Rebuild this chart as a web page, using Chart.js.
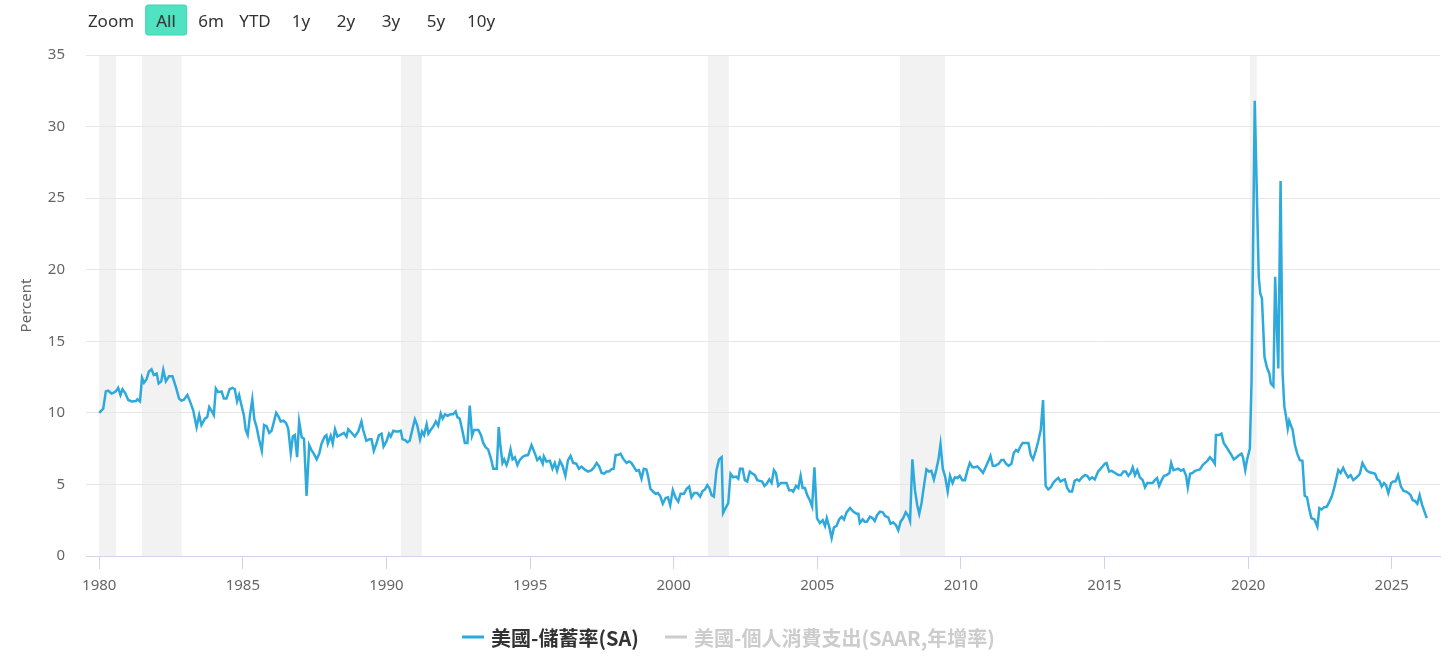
<!DOCTYPE html>
<html>
<head>
<meta charset="utf-8">
<title>美國-儲蓄率(SA)</title>
<script src="https://cdn.jsdelivr.net/npm/chart.js@4.4.1/dist/chart.umd.min.js"></script>
<style>
  body { margin: 0; background: #fff; font-family: "Noto Sans", "Noto Sans CJK TC", sans-serif; }
  #wrap { position: relative; width: 1456px; height: 669px; overflow: hidden; }
  #chart-box { position: absolute; left: 0; top: 0; width: 1456px; height: 669px; }
  .zoom-btn { position: absolute; top: 20px; transform: translate(-50%, -50%); font-size: 17px; color: #333; white-space: nowrap; line-height: 1; }
  .zoom-btn.active { background: #50e3c2; border: 1px solid #3dd2b0; border-radius: 3px; padding: 6px 10px; }
  .legend-item { position: absolute; top: 637px; transform: translateY(-50%); display: flex; align-items: center;
    font-family: "Noto Sans CJK TC", "Noto Sans", sans-serif; font-weight: bold; font-size: 20px; white-space: nowrap; }
  .legend-item i { display: inline-block; width: 22px; height: 3px; margin-right: 7px; }
</style>
</head>
<body>
<div id="wrap">
  <div id="chart-box"><canvas id="graph-canvas"></canvas></div>
  <div id="zoom-bar"></div>
  <div id="legend"></div>
</div>
<script>
// 美國個人儲蓄率, 讀自原圖 (年份以小數表示)
const saveYears = [
  1980.00, 1980.14, 1980.23, 1980.31, 1980.43, 1980.49, 1980.58, 1980.66, 1980.74, 1980.81, 1980.90,
  1981.01, 1981.13, 1981.28, 1981.33, 1981.42, 1981.49, 1981.56, 1981.65, 1981.73, 1981.82, 1981.90,
  1982.00, 1982.07, 1982.16, 1982.23, 1982.32, 1982.43, 1982.55, 1982.67, 1982.78, 1982.86, 1982.94,
  1983.07, 1983.16, 1983.27, 1983.39, 1983.48, 1983.56, 1983.68, 1983.76, 1983.83, 1983.91, 1983.99,
  1984.06, 1984.14, 1984.26, 1984.34, 1984.43, 1984.54, 1984.64, 1984.72, 1984.80, 1984.87, 1984.95,
  1985.04, 1985.10, 1985.17, 1985.25, 1985.33, 1985.40, 1985.48, 1985.57, 1985.66, 1985.74, 1985.83, 1985.92, 1986.00,
  1986.16, 1986.24, 1986.32, 1986.41, 1986.50, 1986.58, 1986.67, 1986.74, 1986.81, 1986.89, 1986.96,
  1987.05, 1987.13, 1987.22, 1987.31, 1987.39, 1987.47, 1987.57, 1987.66, 1987.74, 1987.85, 1987.91, 1987.96,
  1988.06, 1988.13, 1988.21, 1988.29, 1988.38, 1988.52, 1988.61, 1988.67, 1988.79, 1988.90, 1989.02,
  1989.13, 1989.19, 1989.30, 1989.40, 1989.48, 1989.56, 1989.65, 1989.74, 1989.83, 1989.90, 1990.00,
  1990.09, 1990.15, 1990.24, 1990.33, 1990.41, 1990.50, 1990.56, 1990.65, 1990.73, 1990.81, 1990.91, 1990.99,
  1991.07, 1991.17, 1991.24, 1991.31, 1991.40, 1991.46, 1991.54, 1991.63, 1991.72, 1991.80, 1991.89, 1991.96, 1992.04,
  1992.13, 1992.23, 1992.32, 1992.41, 1992.47, 1992.55, 1992.65, 1992.73, 1992.82, 1992.90, 1992.98, 1993.05,
  1993.20, 1993.29, 1993.37, 1993.45, 1993.54, 1993.64, 1993.72, 1993.84, 1993.91, 1993.97, 1994.04,
  1994.10, 1994.18, 1994.24, 1994.32, 1994.39, 1994.47, 1994.56, 1994.64, 1994.73, 1994.81, 1994.93, 1995.05,
  1995.17, 1995.25, 1995.34, 1995.44, 1995.48, 1995.57, 1995.69, 1995.78, 1995.86, 1995.94, 1996.04,
  1996.13, 1996.23, 1996.32, 1996.41, 1996.50, 1996.61, 1996.70, 1996.79, 1996.90, 1997.02,
  1997.14, 1997.23, 1997.32, 1997.41, 1997.49, 1997.58, 1997.66, 1997.75, 1997.83, 1997.91, 1997.98, 1998.06,
  1998.15, 1998.24, 1998.36, 1998.45, 1998.53, 1998.61, 1998.70, 1998.79, 1998.88, 1998.96, 1999.05,
  1999.10, 1999.19, 1999.28, 1999.37, 1999.45, 1999.53, 1999.62, 1999.72, 1999.80, 1999.88, 1999.97, 2000.07,
  2000.16, 2000.24, 2000.36, 2000.45, 2000.54, 2000.62, 2000.71, 2000.82, 2000.92, 2001.01, 2001.09,
  2001.17, 2001.24, 2001.32, 2001.40, 2001.49, 2001.58, 2001.67, 2001.72, 2001.81, 2001.90, 2001.98, 2002.07,
  2002.17, 2002.25, 2002.31, 2002.40, 2002.48, 2002.56, 2002.65, 2002.75, 2002.83, 2002.91, 2003.00, 2003.08,
  2003.16, 2003.24, 2003.33, 2003.41, 2003.49, 2003.56, 2003.64, 2003.73, 2003.82, 2003.93, 2004.02, 2004.11,
  2004.16, 2004.26, 2004.34, 2004.42, 2004.49, 2004.57, 2004.65, 2004.74, 2004.82, 2004.90, 2004.99, 2005.09,
  2005.19, 2005.27, 2005.33, 2005.42, 2005.50, 2005.58, 2005.67, 2005.76, 2005.85, 2005.93, 2006.02,
  2006.14, 2006.25, 2006.37, 2006.43, 2006.48, 2006.58, 2006.65, 2006.73, 2006.83, 2006.92, 2007.00, 2007.08,
  2007.18, 2007.28, 2007.36, 2007.47, 2007.55, 2007.64, 2007.74, 2007.82, 2007.90, 2007.99, 2008.08,
  2008.17, 2008.23, 2008.31, 2008.40, 2008.48, 2008.55, 2008.63, 2008.71, 2008.80, 2008.89, 2008.97, 2009.06, 2009.14,
  2009.22, 2009.29, 2009.37, 2009.45, 2009.54, 2009.62, 2009.71, 2009.79, 2009.88, 2009.96, 2010.05, 2010.14,
  2010.23, 2010.31, 2010.40, 2010.49, 2010.57, 2010.67, 2010.77, 2010.86, 2010.95, 2011.03, 2011.11,
  2011.20, 2011.32, 2011.41, 2011.49, 2011.57, 2011.66, 2011.76, 2011.84, 2011.92, 2011.99, 2012.07, 2012.15,
  2012.26, 2012.35, 2012.43, 2012.51, 2012.60, 2012.69, 2012.78, 2012.86, 2012.95, 2013.04, 2013.13,
  2013.21, 2013.30, 2013.39, 2013.47, 2013.55, 2013.62, 2013.70, 2013.78, 2013.87, 2013.96, 2014.04, 2014.12,
  2014.22, 2014.32, 2014.40, 2014.48, 2014.57, 2014.66, 2014.78, 2014.93, 2015.01, 2015.07, 2015.16,
  2015.25, 2015.37, 2015.48, 2015.57, 2015.66, 2015.74, 2015.83, 2015.91, 2015.98, 2016.06, 2016.14,
  2016.23, 2016.33, 2016.41, 2016.49, 2016.58, 2016.67, 2016.75, 2016.83, 2016.90, 2016.99, 2017.07, 2017.16,
  2017.26, 2017.32, 2017.40, 2017.49, 2017.57, 2017.66, 2017.75, 2017.84, 2017.90, 2017.98, 2018.07, 2018.15,
  2018.23, 2018.32, 2018.42, 2018.50, 2018.58, 2018.67, 2018.76, 2018.84, 2018.88, 2018.99, 2019.07, 2019.15,
  2019.25, 2019.34, 2019.42, 2019.50, 2019.60, 2019.69, 2019.77, 2019.82, 2019.90, 2019.96, 2020.06, 2020.12,
  2020.23, 2020.37, 2020.42, 2020.48, 2020.57, 2020.65, 2020.74, 2020.79, 2020.88, 2020.94, 2021.05, 2021.13, 2021.20,
  2021.26, 2021.32, 2021.38, 2021.43, 2021.55, 2021.63, 2021.71, 2021.80, 2021.89, 2021.97, 2022.05, 2022.12, 2022.20,
  2022.31, 2022.41, 2022.48, 2022.56, 2022.64, 2022.74, 2022.83, 2022.91, 2022.99, 2023.06, 2023.14, 2023.22,
  2023.31, 2023.39, 2023.48, 2023.57, 2023.66, 2023.75, 2023.83, 2023.89, 2023.98, 2024.06, 2024.14, 2024.23,
  2024.34, 2024.42, 2024.50, 2024.57, 2024.65, 2024.73, 2024.80, 2024.88, 2024.98, 2025.05, 2025.13, 2025.22,
  2025.32, 2025.41, 2025.50, 2025.58, 2025.66, 2025.73, 2025.81, 2025.89, 2025.97, 2026.06, 2026.14, 2026.22
];
const saveRate = [
  10.0, 10.3, 11.5, 11.55, 11.35, 11.4, 11.5, 11.75, 11.25, 11.65, 11.4,
  10.9, 10.8, 10.83, 10.95, 10.8, 12.45, 12.1, 12.35, 12.9, 13.05, 12.65,
  12.75, 12.05, 12.2, 13.0, 12.2, 12.55, 12.55, 11.8, 11.0, 10.85, 10.9,
  11.25, 10.8, 10.2, 9.0, 9.85, 9.15, 9.6, 9.7, 10.4, 10.15, 9.85,
  11.7, 11.45, 11.5, 11.0, 11.0, 11.65, 11.75, 11.65, 10.8, 11.25, 10.55,
  9.8, 8.8, 8.45, 9.85, 10.95, 9.55, 9.0, 8.1, 7.35, 9.15, 9.05, 8.6, 8.75,
  10.0, 9.75, 9.4, 9.45, 9.3, 8.9, 7.2, 8.35, 8.45, 6.9, 9.4,
  8.3, 8.2, 4.2, 7.75, 7.4, 7.15, 6.75, 7.15, 7.85, 8.35, 8.45, 7.85,
  8.4, 7.85, 8.85, 8.35, 8.45, 8.6, 8.35, 8.85, 8.6, 8.35, 8.7,
  9.4, 8.8, 8.05, 8.15, 8.15, 7.35, 7.85, 8.45, 8.55, 7.65, 8.0,
  8.55, 8.35, 8.75, 8.7, 8.7, 8.75, 8.15, 8.1, 7.95, 8.05, 8.9, 9.55,
  9.15, 8.15, 8.7, 8.45, 9.2, 8.55, 8.8, 9.05, 9.4, 9.1, 9.95, 9.6, 9.9,
  9.8, 9.9, 9.9, 10.1, 9.7, 9.6, 8.7, 7.9, 7.9, 10.5, 8.4, 8.8,
  8.8, 8.45, 7.9, 7.6, 7.45, 6.8, 6.1, 6.1, 9.0, 7.65, 6.5,
  6.75, 6.35, 6.7, 7.45, 6.75, 6.9, 6.35, 6.7, 6.9, 7.0, 7.05, 7.75,
  7.15, 6.7, 6.9, 6.45, 6.95, 6.6, 6.65, 6.1, 6.5, 5.95, 6.65,
  6.3, 5.6, 6.7, 7.0, 6.5, 6.45, 6.1, 6.25, 6.05, 5.9,
  6.0, 6.2, 6.5, 6.25, 5.8, 5.75, 5.9, 5.9, 6.05, 6.1, 7.05, 7.05,
  7.15, 6.8, 6.5, 6.6, 6.5, 6.25, 5.95, 6.0, 5.4, 6.1, 6.05,
  5.65, 4.7, 4.5, 4.35, 4.4, 4.2, 3.65, 4.05, 4.1, 3.55, 4.6, 4.05,
  3.8, 4.35, 4.35, 4.7, 4.85, 4.1, 4.4, 4.4, 4.15, 4.55, 4.65,
  4.95, 4.75, 4.25, 4.15, 6.0, 6.75, 6.9, 3.0, 3.35, 3.7, 5.75, 5.5,
  5.55, 5.4, 6.1, 6.1, 5.3, 5.2, 5.9, 5.75, 5.65, 5.3, 5.25, 5.2,
  4.9, 5.05, 5.35, 5.1, 6.0, 5.8, 4.9, 5.1, 5.1, 5.1, 4.6, 4.6,
  4.5, 4.9, 4.75, 5.6, 4.75, 4.75, 4.25, 3.9, 3.45, 6.2, 2.65, 2.3,
  2.5, 2.1, 2.65, 2.0, 1.25, 2.0, 2.1, 2.55, 2.75, 2.55, 3.05,
  3.35, 3.1, 2.95, 2.95, 2.3, 2.55, 2.4, 2.4, 2.75, 2.65, 2.45, 2.85,
  3.1, 3.05, 2.8, 2.7, 2.25, 2.35, 2.15, 1.8, 2.4, 2.65, 3.05,
  2.8, 2.45, 6.75, 4.6, 3.55, 2.95, 3.7, 4.85, 6.05, 5.9, 5.95, 5.35, 6.0,
  6.75, 7.8, 6.1, 5.55, 4.5, 5.6, 5.1, 5.5, 5.45, 5.6, 5.3, 5.3,
  6.0, 6.5, 6.2, 6.2, 6.25, 6.05, 5.8, 6.2, 6.6, 7.0, 6.3,
  6.3, 6.45, 6.7, 6.7, 6.45, 6.3, 6.45, 7.2, 7.4, 7.3, 7.65, 7.9,
  7.9, 7.9, 7.05, 6.75, 7.3, 8.0, 8.8, 10.9, 4.9, 4.65, 4.8,
  5.1, 5.3, 5.45, 5.2, 5.3, 5.35, 4.75, 4.5, 4.5, 5.25, 5.35, 5.25,
  5.5, 5.65, 5.6, 5.35, 5.5, 5.35, 5.9, 6.25, 6.45, 6.5, 5.9,
  5.95, 5.8, 5.65, 5.65, 5.9, 5.9, 5.6, 5.8, 6.2, 5.65, 6.0,
  5.5, 5.3, 4.8, 5.1, 5.1, 5.1, 5.3, 5.45, 4.9, 5.3, 5.6, 5.65,
  5.8, 6.5, 6.0, 6.05, 6.1, 5.95, 6.05, 5.6, 4.8, 5.75, 5.8, 5.95,
  6.0, 6.05, 6.35, 6.5, 6.65, 6.9, 6.7, 6.45, 8.45, 8.45, 8.55, 7.9,
  7.6, 7.3, 7.05, 6.75, 6.9, 7.05, 7.15, 6.9, 6.0, 6.7, 7.5, 12.3,
  31.8, 19.5, 18.35, 18.0, 13.9, 13.2, 12.75, 12.05, 11.85, 19.5, 13.1, 26.2, 12.75,
  10.45, 9.75, 8.9, 9.45, 8.8, 7.75, 7.15, 6.7, 6.65, 4.2, 4.1, 3.35, 2.65,
  2.55, 2.05, 3.35, 3.25, 3.4, 3.45, 3.8, 4.15, 4.7, 5.3, 6.0, 5.8,
  6.15, 5.8, 5.5, 5.65, 5.3, 5.45, 5.6, 5.75, 6.5, 6.2, 5.95, 5.85,
  5.8, 5.75, 5.35, 5.25, 4.85, 5.1, 4.95, 4.4, 5.1, 5.2, 5.2, 5.65,
  4.85, 4.55, 4.5, 4.4, 4.25, 3.9, 3.85, 3.65, 4.25, 3.55, 3.1, 2.65
];

// 衰退期 (灰色區塊)
const recessionStart = [1980.00, 1981.49, 1990.50, 2001.19, 2007.88, 2020.06];
const recessionEnd   = [1980.58, 1982.87, 1991.23, 2001.92, 2009.45, 2020.30];

const xTicks = [1980, 1985, 1990, 1995, 2000, 2005, 2010, 2015, 2020, 2025];
const yTicks = [0, 5, 10, 15, 20, 25, 30, 35];

const seriesNames = ['美國-儲蓄率(SA)', '美國-個人消費支出(SAAR,年增率)'];
const seriesColors = ['#2ea9dc', '#cccccc'];
const legendText = ['#333333', '#cccccc'];
const zoomLabels = ['Zoom', 'All', '6m', 'YTD', '1y', '2y', '3y', '5y', '10y'];

if (saveYears.length !== saveRate.length) {
  console.warn('length mismatch', saveYears.length, saveRate.length);
}

document.addEventListener('DOMContentLoaded', function () {
  buildZoomBar();
  buildLegend();
  drawChart();
});

function buildZoomBar() {
  const bar = document.getElementById('zoom-bar');
  const centers = [111, 166, 211, 255, 301, 346, 391, 436, 481];
  zoomLabels.forEach((txt, i) => {
    const el = document.createElement('span');
    el.className = 'zoom-btn' + (txt === 'All' ? ' active' : '');
    el.style.left = centers[i] + 'px';
    el.textContent = txt;
    bar.appendChild(el);
  });
}

function buildLegend() {
  const box = document.getElementById('legend');
  const lefts = [462, 665];
  seriesNames.forEach((name, i) => {
    const item = document.createElement('div');
    item.className = 'legend-item';
    item.style.left = lefts[i] + 'px';
    item.style.color = legendText[i];
    item.innerHTML = '<i style="background:' + seriesColors[i] + '"></i>' + name;
    box.appendChild(item);
  });
}

// 灰色衰退區塊畫在格線之下
const recessionBands = {
  id: 'recessionBands',
  beforeDraw(chart) {
    const { ctx, chartArea, scales } = chart;
    const x = scales.x;
    ctx.save();
    ctx.fillStyle = '#f2f2f2';
    recessionStart.forEach((s, i) => {
      const x0 = x.getPixelForValue(s);
      const x1 = x.getPixelForValue(recessionEnd[i]);
      ctx.fillRect(x0, chartArea.top, x1 - x0, chartArea.bottom - chartArea.top);
    });
    ctx.restore();
  }
};

function drawChart() {
  const points = saveYears.map((yr, i) => ({ x: yr, y: saveRate[i] }));
  const ctx = document.getElementById('graph-canvas').getContext('2d');
  new Chart(ctx, {
    type: 'line',
    data: {
      datasets: [{
        label: seriesNames[0],
        data: points,
        borderColor: seriesColors[0],
        borderWidth: 2.5,
        pointRadius: 0,
        tension: 0,
        fill: false
      }]
    },
    options: {
      animation: false,
      responsive: true,
      maintainAspectRatio: false,
      layout: { padding: { top: 55, right: 16, bottom: 0, left: 0 } },
      plugins: {
        legend: { display: false },
        tooltip: { enabled: false }
      },
      scales: {
        x: {
          type: 'linear',
          min: 1979.54,
          max: 2026.68,
          afterBuildTicks: s => { s.ticks = xTicks.map(v => ({ value: v })); },
          afterFit: s => { s.height = 113; },
          grid: { drawOnChartArea: false, drawTicks: true, tickLength: 13, color: '#ccd6eb' },
          border: { color: '#ccd6eb' },
          ticks: {
            callback: v => String(v),
            color: '#666666',
            font: { family: '"Noto Sans", sans-serif', size: 15 },
            padding: 8,
            maxRotation: 0,
            autoSkip: false
          }
        },
        y: {
          min: 0,
          max: 35,
          afterBuildTicks: s => { s.ticks = yTicks.map(v => ({ value: v })); },
          afterFit: s => { s.width = 86; },
          grid: { color: '#e6e6e6', drawTicks: false },
          border: { display: false },
          ticks: {
            color: '#666666',
            font: { family: '"Noto Sans", sans-serif', size: 15 },
            padding: 21
          },
          title: {
            display: true,
            text: 'Percent',
            color: '#666666',
            font: { family: '"Noto Sans", sans-serif', size: 15 },
            padding: { top: 18, bottom: 0 }
          }
        }
      }
    },
    plugins: [recessionBands]
  });
}
</script>
</body>
</html>
